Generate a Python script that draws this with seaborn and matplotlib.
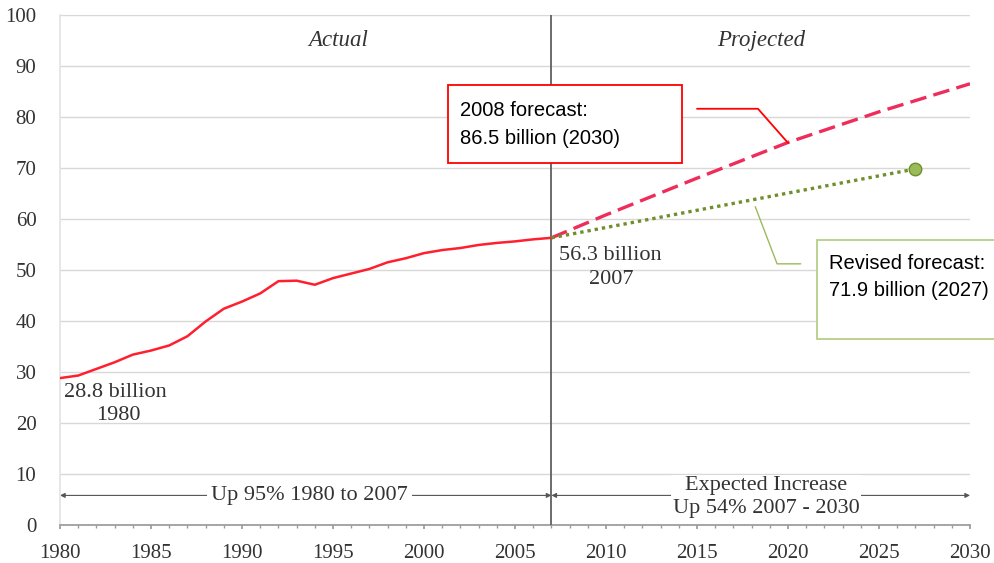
import matplotlib
matplotlib.use("Agg")
import matplotlib.pyplot as plt
import seaborn as sns
import pandas as pd
from matplotlib.patches import Rectangle
from matplotlib.ticker import MultipleLocator

# Actual values (billion), 1980-2007
years_actual = list(range(1980, 2008))
values_actual = [28.8, 29.3, 30.6, 31.9, 33.4, 34.2, 35.2, 37.0, 39.9, 42.4,
                 43.8, 45.4, 47.8, 47.9, 47.1, 48.4, 49.3, 50.2, 51.5, 52.3,
                 53.3, 53.9, 54.3, 54.9, 55.3, 55.6, 56.0, 56.3]

# 2008 forecast, 2007-2030
years_forecast = [2007, 2010, 2015, 2020, 2025, 2030]
values_forecast = [56.3, 60.8, 68.0, 75.0, 81.0, 86.5]

# Revised forecast, 2007-2027
years_revised = [2007, 2027]
values_revised = [56.3, 69.8]

x_ticks = [1980, 1985, 1990, 1995, 2000, 2005, 2010, 2015, 2020, 2025, 2030]
y_ticks = [0, 10, 20, 30, 40, 50, 60, 70, 80, 90, 100]

sns.set_theme(style="white")
serif = ["Liberation Serif", "DejaVu Serif"]
sans = ["Liberation Sans", "DejaVu Sans"]
txt = "#333333"

fig = plt.figure(figsize=(9.95, 5.63), dpi=100)
ax = fig.add_axes([0.0603, 0.0675, 0.9146, 0.906])

actual = pd.DataFrame({"year": years_actual, "value": values_actual})
forecast = pd.DataFrame({"year": years_forecast, "value": values_forecast})
revised = pd.DataFrame({"year": years_revised, "value": values_revised})

sns.lineplot(data=actual, x="year", y="value", ax=ax, color="#FF1F2F", lw=1.8, zorder=4)
sns.lineplot(data=forecast, x="year", y="value", ax=ax, color="#EE2D5A", lw=2.4,
             zorder=4, linestyle=(0, (5, 2.2)))
sns.lineplot(data=revised, x="year", y="value", ax=ax, color="#6F8F2A", lw=2.4,
             zorder=4, linestyle=(0, (1, 1.2)))
ax.plot(years_revised[-1:], values_revised[-1:], "o", ms=9, mfc="#9BBB59",
        mec="#6F8F2A", mew=1.0, zorder=5)

ax.set_xlim(1980, 2030)
ax.set_ylim(0, 100)
ax.set_xticks(x_ticks)
ax.set_yticks(y_ticks)
ax.xaxis.set_minor_locator(MultipleLocator(1))
ax.set_xlabel("")
ax.set_ylabel("")
ax.grid(axis="y", color="#D8D8D8", lw=1.0)
ax.grid(axis="x", visible=False)
for s in ["top", "right"]:
    ax.spines[s].set_visible(False)
ax.spines["left"].set_color("#E4E4E4")
ax.spines["bottom"].set_color("#9A9A9A")
ax.tick_params(axis="x", which="both", bottom=True, length=3, color="#9A9A9A",
               labelsize=15, pad=11)
ax.tick_params(axis="x", which="minor", length=2)
ax.tick_params(axis="y", left=False, labelsize=15, pad=11)
for lab in ax.get_xticklabels() + ax.get_yticklabels():
    lab.set_fontfamily(serif)
    lab.set_color(txt)

# divider between actual and projected
ax.axvline(2007, color="#606060", lw=1.3, zorder=3)

ax.text(1995.3, 94.9, "Actual", family=serif, style="italic", fontsize=16.5,
        color=txt, ha="center", va="center")
ax.text(2018.5, 94.9, "Projected", family=serif, style="italic", fontsize=16.5,
        color=txt, ha="center", va="center")

ax.text(1980.2, 25.9, "28.8 billion", family=serif, fontsize=16, color=txt,
        ha="left", va="center")
ax.text(1983.2, 21.4, "1980", family=serif, fontsize=16, color=txt,
        ha="center", va="center")
ax.text(2007.4, 52.9, "56.3 billion", family=serif, fontsize=16, color=txt,
        ha="left", va="center")
ax.text(2010.3, 48.2, "2007", family=serif, fontsize=16, color=txt,
        ha="center", va="center")

# range arrows
arrow = dict(arrowstyle="<|-|>", color="#555555", lw=0.8, mutation_scale=7,
             shrinkA=0, shrinkB=0)
ax.annotate("", xy=(1980, 5.8), xytext=(2007, 5.8), arrowprops=arrow, zorder=2)
ax.annotate("", xy=(2007, 5.8), xytext=(2030, 5.8), arrowprops=arrow, zorder=2)
ax.text(1993.7, 5.8, "Up 95% 1980 to 2007", family=serif, fontsize=16,
        color=txt, ha="center", va="center",
        bbox=dict(fc="white", ec="none", pad=3), zorder=3)
ax.text(2018.8, 5.5, "Expected Increase\nUp 54% 2007 - 2030", family=serif,
        fontsize=16, color=txt, ha="center", va="center", linespacing=1.25,
        bbox=dict(fc="white", ec="none", pad=1), zorder=3)

# callout: 2008 forecast
ax.add_patch(Rectangle((2001.3, 71.0), 12.9, 15.3, fc="white", ec="#FF0000",
                       lw=1.3, zorder=6))
ax.text(2001.95, 78.6, "2008 forecast:\n86.5 billion (2030)", family=sans,
        fontsize=14.5, color="black", ha="left", va="center", linespacing=1.6,
        zorder=7)
ax.plot([2015.0, 2018.35, 2020.0], [81.6, 81.6, 74.9], color="#FF0000", lw=1.3,
        zorder=6)

# callout: revised forecast
ax.add_patch(Rectangle((2021.6, 36.5), 10.0, 19.4, fc="white", ec="#B5CF86",
                       lw=1.3, zorder=6, clip_on=False))
ax.text(2022.25, 48.6, "Revised forecast:\n71.9 billion (2027)", family=sans,
        fontsize=14.5, color="black", ha="left", va="center", linespacing=1.55,
        zorder=7, clip_on=False)
ax.plot([2018.2, 2019.4, 2020.7], [62.4, 51.2, 51.2], color="#9BBB59", lw=1.0,
        zorder=6)

fig.savefig("out.png", dpi=100)
